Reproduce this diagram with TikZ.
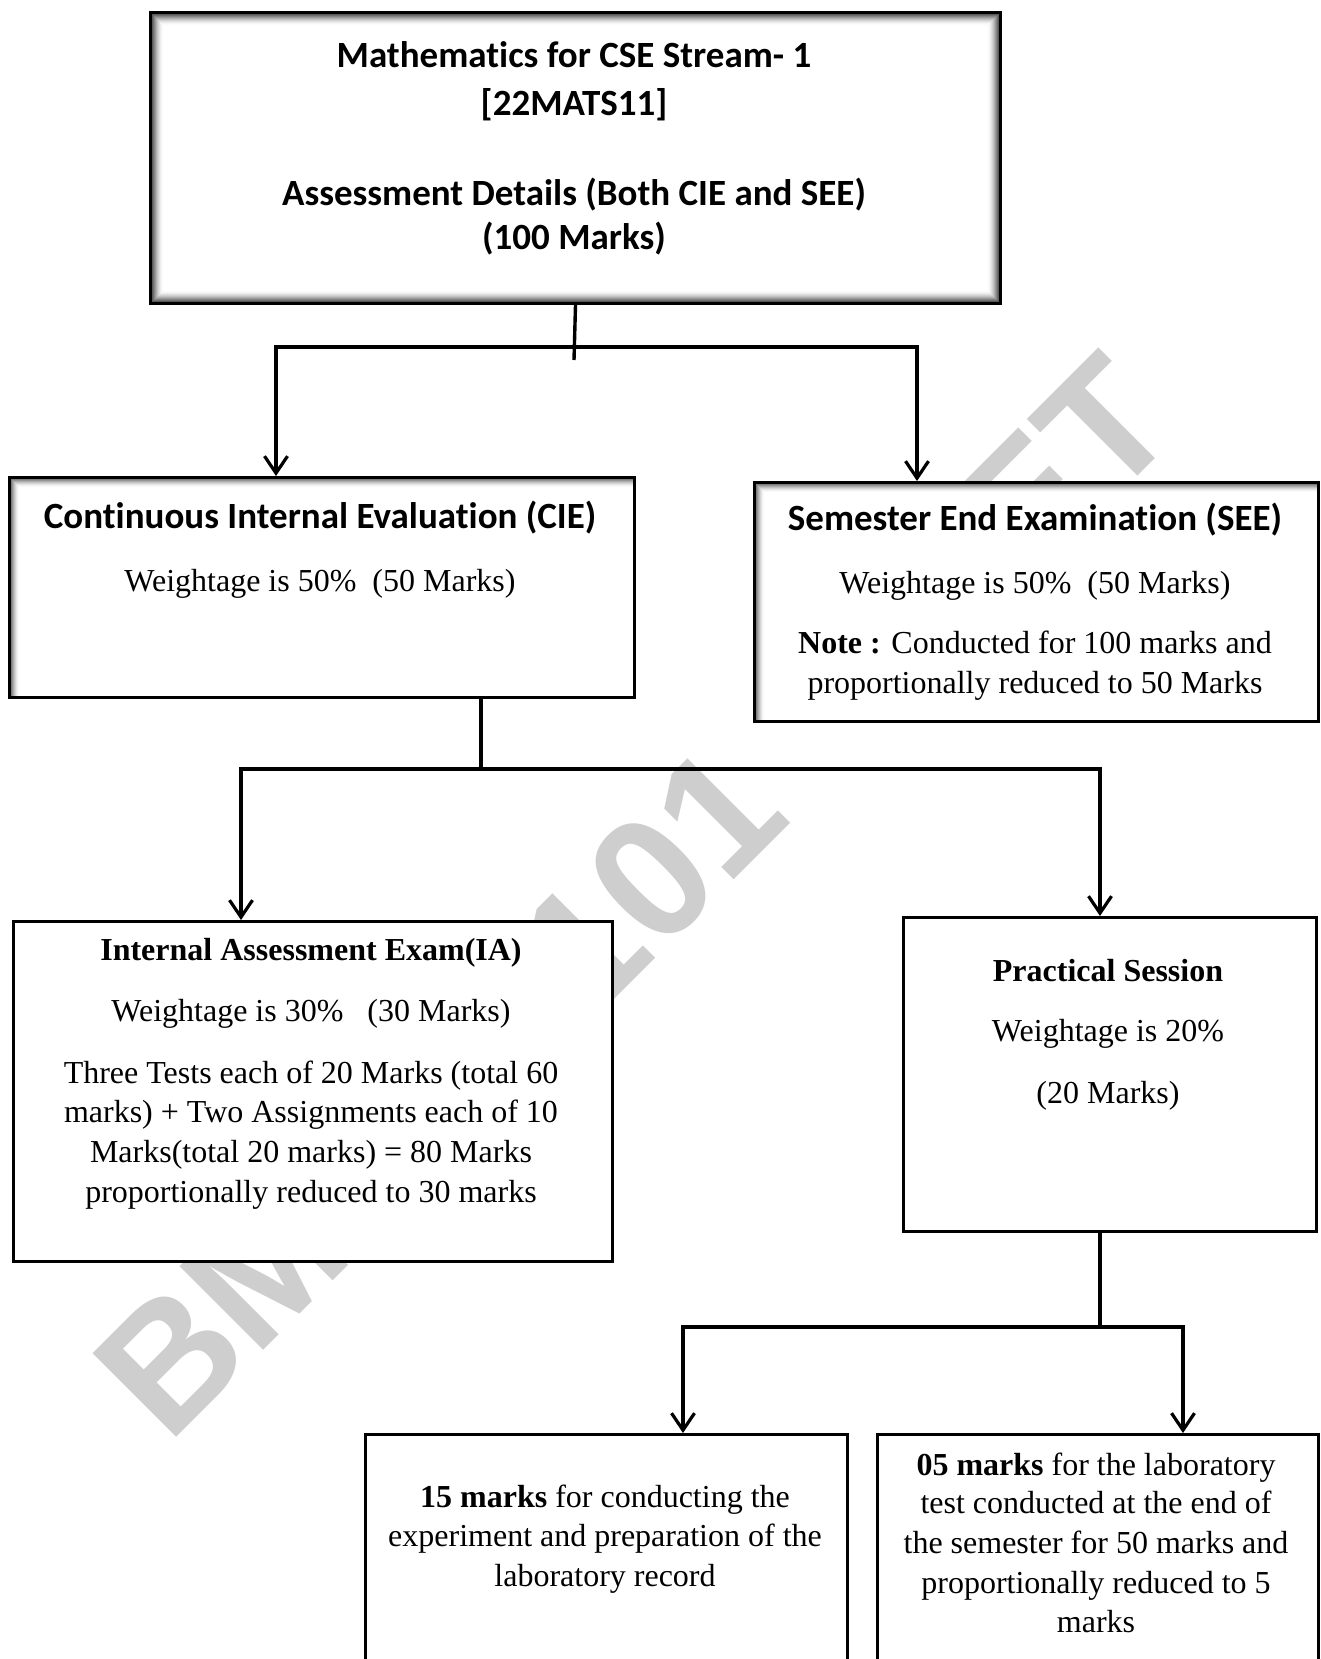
\documentclass[tikz,border=0pt]{standalone}
\usepackage{fontspec}
\setmainfont{Liberation Serif}
\newfontfamily\calibri[Ligatures=NoCommon]{Carlito}
\newfontfamily\wmfont{Liberation Sans}
\usetikzlibrary{arrows.meta,calc}
\definecolor{wmgray}{RGB}{207,206,207}
\begin{document}
\begin{tikzpicture}[x=1pt,y=-1pt,
  box/.style={draw=black, line width=3pt, fill=white, inner sep=0pt, anchor=north west},
  cal/.style={font=\calibri\bfseries\fontsize{37}{45}\selectfont, anchor=base, inner sep=0pt},
  tms/.style={font=\fontsize{32}{39.5}\selectfont, anchor=base, inner sep=0pt},
  tmsb/.style={font=\bfseries\fontsize{32}{39.5}\selectfont, anchor=base, inner sep=0pt},
  conn/.style={line width=3.4pt},
  arr/.style={conn, -{Straight Barb[length=17pt,width=23pt,line width=3.2pt]}},
  wm/.style={font=\wmfont\bfseries\fontsize{172}{172}\selectfont, text=wmgray, inner sep=0pt, rotate=45, anchor=base west}
]
\clip (0,0) rectangle (1320,1659);
\fill[white] (0,0) rectangle (1320,1659);

% watermark
\node[wm] (wm1) at (168,1446) {BMATS101};
\node[wm] (wm2) at (947,667) {SET};

% boxes
\node[box, minimum width=850pt, minimum height=291pt] (top) at (149,11) {};
\foreach \k [evaluate=\k as \op using {0.6*(1-(\k-1)/14)^2}] in {2,...,14}
  \draw[black, opacity=\op, line width=1.05pt] ($(top.north west)+(\k,\k)$) rectangle ($(top.south east)+(-\k,-\k)$);

\node[box, minimum width=625pt, minimum height=220pt] (cie) at (8,476) {};
\foreach \k [evaluate=\k as \op using {0.5*(1-(\k-1)/11)^2}] in {2,...,11}
  \draw[black, opacity=\op, line width=1.05pt] ($(cie.south west)+(\k,-2)$) -- ($(cie.north west)+(\k,\k)$) -- ($(cie.north east)+(-2,\k)$);

\node[box, minimum width=564pt, minimum height=239pt] (see) at (753,481) {};
\foreach \k [evaluate=\k as \op using {0.5*(1-(\k-1)/11)^2}] in {2,...,11}
  \draw[black, opacity=\op, line width=1.05pt] ($(see.south west)+(\k,-2)$) -- ($(see.north west)+(\k,\k)$) -- ($(see.north east)+(-2,\k)$);

\node[box, minimum width=599pt, minimum height=340pt] (ia) at (12,920) {};
\node[box, minimum width=413pt, minimum height=314pt] (prac) at (902,916) {};
\node[box, minimum width=482pt, minimum height=300pt] (bl) at (364,1433) {};
\node[box, minimum width=441pt, minimum height=300pt] (br) at (876,1433) {};

% texts
\node[cal] (t1) at (574,68) {Mathematics for CSE Stream- 1};
\node[cal] (t2) at (574,116) {[22MATS11]};
\node[cal] (t3) at (574,205) {Assessment Details (Both CIE and SEE)};
\node[cal] (t4) at (574,249) {(100 Marks)};

\node[cal] (c1) at (320,528) {Continuous Internal Evaluation (CIE)};
\node[tms] (c2) at (320,591) {Weightage is 50\%\ \ (50 Marks)};

\node[cal] (s1) at (1035,530) {Semester End Examination (SEE)};
\node[tms] (s2) at (1035,593) {Weightage is 50\%\ \ (50 Marks)};
\node[tms] (s3) at (1035,653) {\textbf{Note :} Conducted for 100 marks and};
\node[tms] (s4) at (1035,693) {proportionally reduced to 50 Marks};

\node[tmsb] (i1) at (311,960) {Internal Assessment Exam(IA)};
\node[tms] (i2) at (311,1021) {Weightage is 30\%\ \ \ (30 Marks)};
\node[tms] (i3) at (311,1083) {Three Tests each of 20 Marks (total 60};
\node[tms] (i4) at (311,1122) {marks) + Two Assignments each of 10};
\node[tms] (i5) at (311,1162) {Marks(total 20 marks) = 80 Marks};
\node[tms] (i6) at (311,1202) {proportionally reduced to 30 marks};

\node[tmsb] (p1) at (1108,981) {Practical Session};
\node[tms] (p2) at (1108,1041) {Weightage is 20\%};
\node[tms] (p3) at (1108,1103) {(20 Marks)};

\node[tms] (l1) at (605,1507) {\textbf{15 marks} for conducting the};
\node[tms] (l2) at (605,1546) {experiment and preparation of the};
\node[tms] (l3) at (605,1586) {laboratory record};

\node[tms] (r1) at (1096,1475) {\textbf{05 marks} for the laboratory};
\node[tms] (r2) at (1096,1513) {test conducted at the end of};
\node[tms] (r3) at (1096,1553) {the semester for 50 marks and};
\node[tms] (r4) at (1096,1593) {proportionally reduced to 5};
\node[tms] (r5) at (1096,1632) {marks};

% connectors
\coordinate (m1) at (574,347);
\coordinate (m1e) at (574,360);
\coordinate (a1) at (276,347);
\coordinate (b1) at (917,347);
\draw[conn] (top.south) -- (m1e);
\draw[arr] (m1) -| (a1 |- cie.north);
\draw[arr] (m1) -| (b1 |- see.north);

\coordinate (m2) at (481,769);
\coordinate (a2) at (241,769);
\coordinate (b2) at (1100,769);
\draw[conn] (m2 |- cie.south) -- (m2);
\draw[arr] (m2) -| (a2 |- ia.north);
\draw[arr] (m2) -| (b2 |- prac.north);

\coordinate (m3) at (1100,1327);
\coordinate (a3) at (683,1327);
\coordinate (b3) at (1183,1327);
\draw[conn] (m3 |- prac.south) -- (m3);
\draw[arr] (m3) -| (a3 |- bl.north);
\draw[arr] (m3) -| (b3 |- br.north);
\end{tikzpicture}
\end{document}
